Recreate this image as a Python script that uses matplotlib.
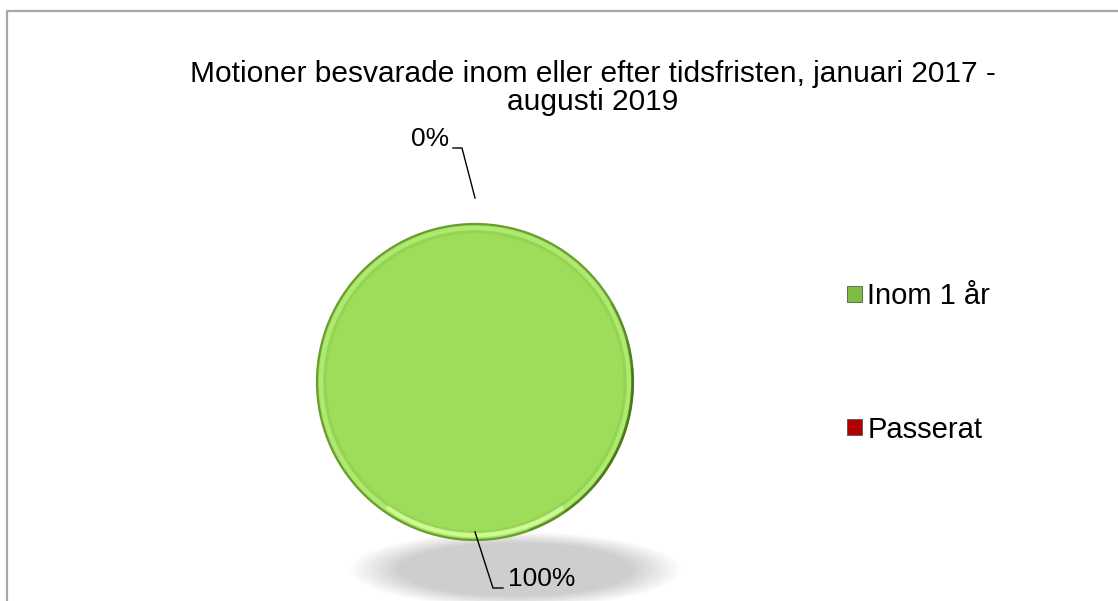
import matplotlib
matplotlib.use('Agg')
import matplotlib.pyplot as plt
import numpy as np
from matplotlib.patches import Circle, Arc, Patch

plt.rcParams['font.family'] = ['Liberation Sans', 'DejaVu Sans']

# data
kategorier = ['Inom 1 år', 'Passerat']
andelar = [100, 0]
farger = ['#9ddd5a', '#c00000']
titel = 'Motioner besvarade inom eller efter tidsfristen, januari 2017 -\naugusti 2019'

W, H = 1118, 601
fig = plt.figure(figsize=(W / 100, H / 100), dpi=100)
ax = fig.add_axes([0, 0, 1, 1])

cx, cy, r = 475, H - 382, 158

# mjuk skugga under pajen
sx, sy, sa, sb = 515, H - 570, 145, 33
gx, gy = np.meshgrid(np.arange(0, W), np.arange(0, H))
d = np.sqrt(((gx - sx) / sa) ** 2 + ((gy - sy) / sb) ** 2)
alpha = np.clip((1.15 - d) / 0.35, 0, 1) * 0.85
skugga = np.zeros((H, W, 4))
skugga[..., :3] = 0.78
skugga[..., 3] = alpha
ax.imshow(skugga, extent=(0, W, 0, H), origin='lower', zorder=1, interpolation='bilinear')

wedges, _ = ax.pie(andelar, colors=farger, startangle=90, counterclock=False,
                   center=(cx, cy), radius=r,
                   wedgeprops=dict(linewidth=0))
for w in wedges:
    w.set_zorder(3)

# kant-effekt
ax.add_patch(Circle((cx, cy), r, facecolor='none', edgecolor='#6a9d2e',
                    linewidth=1.6, zorder=4))
ax.add_patch(Circle((cx, cy), r - 4, facecolor='none', edgecolor='#b6ef7c',
                    linewidth=3, alpha=0.7, zorder=4))
ax.add_patch(Circle((cx, cy), r - 8, facecolor='none', edgecolor='#8cc84c',
                    linewidth=2, alpha=0.45, zorder=4))
for i, (t1, t2) in enumerate([(-70, 30), (-55, 15), (-40, 5)]):
    ax.add_patch(Arc((cx, cy), 2 * r - 1, 2 * r - 1, theta1=t1, theta2=t2,
                     color='#3f6b12', linewidth=1.8, alpha=0.35, zorder=5))
ax.add_patch(Arc((cx, cy), 2 * r - 10, 2 * r - 10, theta1=235, theta2=305,
                 color='#d6ff9e', linewidth=3, alpha=0.8, zorder=5))

# etiketter med hänvisningslinjer
for w, v in zip(wedges, andelar):
    mid = np.deg2rad((w.theta1 + w.theta2) / 2)
    ux, uy = np.cos(mid), np.sin(mid)
    txt = f'{v:.0f}%'
    if uy > 0:
        p0 = (cx + ux * r, cy + uy * (r + 26))
        p1 = (p0[0] - 13, p0[1] + 50)
        p2 = (p1[0] - 9, p1[1])
        ax.plot([p0[0], p1[0], p2[0]], [p0[1], p1[1], p2[1]], color='black', lw=1, zorder=6)
        ax.text(p2[0] - 4, p2[1] + 9, txt, ha='right', va='center', fontsize=19, zorder=6)
    else:
        p0 = (cx + ux * r, cy + uy * (r - 8))
        p1 = (p0[0] + 18, p0[1] - 56)
        p2 = (p1[0] + 10, p1[1])
        ax.plot([p0[0], p1[0], p2[0]], [p0[1], p1[1], p2[1]], color='black', lw=1, zorder=6)
        ax.text(p2[0] + 5, p2[1] + 9, txt, ha='left', va='center', fontsize=19, zorder=6)

# ram runt diagrammet
ax.plot([7, 7, W + 5], [-5, H - 11, H - 11], color='#a6a6a6', lw=1.6, zorder=7,
        clip_on=False)

ax.set_xlim(0, W)
ax.set_ylim(0, H)
ax.set_aspect('equal')
ax.axis('off')

fig.text(593 / W, 1 - 88 / H, titel, ha='center', va='center', fontsize=21.5,
         linespacing=1.02)

handles = [Patch(facecolor=c, edgecolor='#555555', linewidth=0.6) for c in ['#7cbf3f', '#b00000']]
fig.legend(handles, kategorier, loc='center left', bbox_to_anchor=(847 / W, 1 - 363 / H),
           frameon=False, fontsize=21, handlelength=0.5, handleheight=0.5,
           handletextpad=0.2, labelspacing=3.6, borderaxespad=0, borderpad=0)

fig.savefig('out.png', dpi=100)
